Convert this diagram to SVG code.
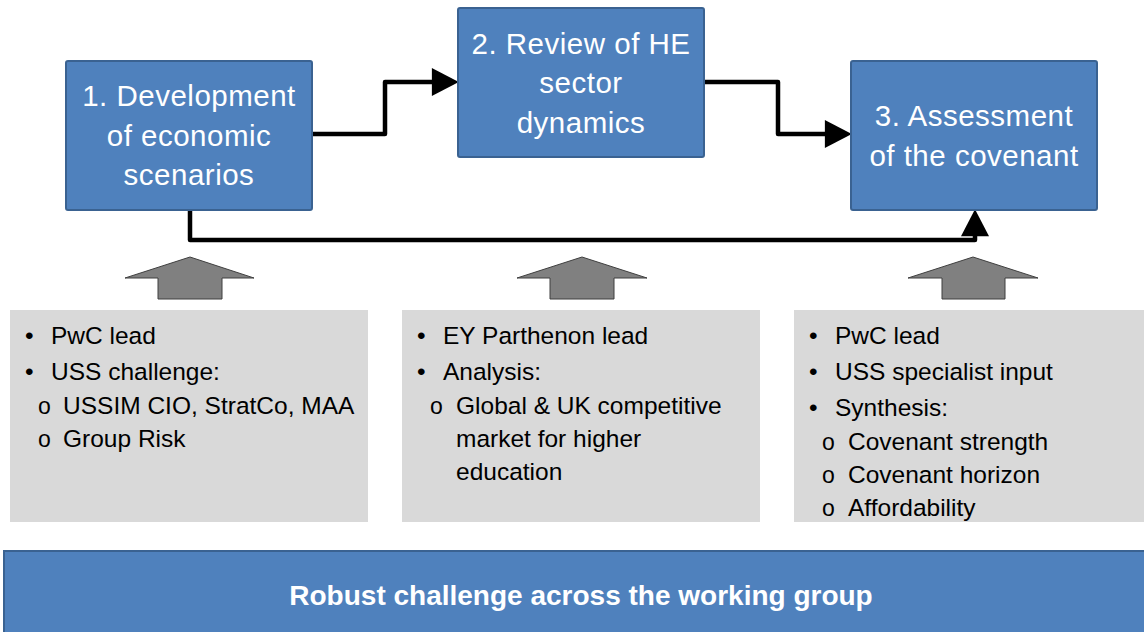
<svg xmlns="http://www.w3.org/2000/svg" width="1144" height="632" viewBox="0 0 1144 632">
  <style>
    .step { fill: #4f81bd; stroke: #3a6291; stroke-width: 2; }
    .step-text { font-family: "Liberation Sans", Arial, sans-serif; font-size: 29.5px; letter-spacing: 0.5px; fill: #ffffff; text-anchor: middle; }
    .panel { fill: #d9d9d9; }
    .panel-text { font-family: "Liberation Sans", Arial, sans-serif; font-size: 24.5px; fill: #000000; }
    .sub { font-family: "Liberation Sans", Arial, sans-serif; font-size: 23px; fill: #000000; }
    .input-arrow { fill: #808080; stroke: #3f3f3f; stroke-width: 1; }
    .link { fill: none; stroke: #000000; stroke-width: 4.5; stroke-linejoin: round; }
    .banner { fill: #4f81bd; stroke: #3a6291; stroke-width: 2; }
    .banner-text { font-family: "Liberation Sans", Arial, sans-serif; font-size: 28px; font-weight: bold; fill: #ffffff; text-anchor: middle; }
  </style>
  <defs>
    <marker id="head" markerUnits="userSpaceOnUse" markerWidth="28" markerHeight="28" viewBox="0 0 26 27" refX="4" refY="13.5" orient="auto">
      <path d="M0,0 L26,13.5 L0,27 Z" fill="#000000"/>
    </marker>
  </defs>

  <rect width="1144" height="632" fill="#ffffff"/>

  <!-- connectors between the three steps -->
  <g id="connectors">
    <path class="link" d="M312,134 H385 V82 H436" marker-end="url(#head)"/>
    <path class="link" d="M704,82 H778 V134 H829" marker-end="url(#head)"/>
    <path class="link" d="M190,210 V240 H975 V232" marker-end="url(#head)"/>
  </g>

  <!-- step boxes -->
  <g id="step1">
    <rect class="step" x="66" y="61" width="246" height="149" rx="2"/>
    <text class="step-text" x="189" y="106">1. Development</text>
    <text class="step-text" x="189" y="146">of economic</text>
    <text class="step-text" x="189" y="185">scenarios</text>
  </g>
  <g id="step2">
    <rect class="step" x="458" y="8" width="246" height="149" rx="2"/>
    <text class="step-text" x="581" y="54">2. Review of HE</text>
    <text class="step-text" x="581" y="93">sector</text>
    <text class="step-text" x="581" y="133">dynamics</text>
  </g>
  <g id="step3">
    <rect class="step" x="851" y="61" width="246" height="149" rx="2"/>
    <text class="step-text" x="974" y="126">3. Assessment</text>
    <text class="step-text" x="974" y="166">of the covenant</text>
  </g>

  <!-- grey block arrows feeding each step -->
  <g id="input1">
    <polygon class="input-arrow" points="190,257 254,278 222,278 222,299 158,299 158,278 125,278"/>
  </g>
  <g id="input2">
    <polygon class="input-arrow" points="582,257 647,278 614,278 614,299 550,299 550,278 517,278"/>
  </g>
  <g id="input3">
    <polygon class="input-arrow" points="973,257 1038,278 1005,278 1005,299 942,299 942,278 908,278"/>
  </g>

  <!-- description panels -->
  <g id="panel1">
    <rect class="panel" x="10" y="310" width="358" height="212"/>
    <text class="panel-text" x="25" y="344">•</text>
    <text class="panel-text" x="51" y="344">PwC lead</text>
    <text class="panel-text" x="25" y="380">•</text>
    <text class="panel-text" x="51" y="380">USS challenge:</text>
    <text class="sub" x="38" y="414">o</text>
    <text class="panel-text" x="63" y="414">USSIM CIO, StratCo, MAA</text>
    <text class="sub" x="38" y="447">o</text>
    <text class="panel-text" x="63" y="447">Group Risk</text>
  </g>
  <g id="panel2">
    <rect class="panel" x="402" y="310" width="358" height="212"/>
    <text class="panel-text" x="417" y="344">•</text>
    <text class="panel-text" x="443" y="344">EY Parthenon lead</text>
    <text class="panel-text" x="417" y="380">•</text>
    <text class="panel-text" x="443" y="380">Analysis:</text>
    <text class="sub" x="430" y="414">o</text>
    <text class="panel-text" x="456" y="414">Global &amp; UK competitive</text>
    <text class="panel-text" x="456" y="447">market for higher</text>
    <text class="panel-text" x="456" y="480">education</text>
  </g>
  <g id="panel3">
    <rect class="panel" x="794" y="310" width="350" height="212"/>
    <text class="panel-text" x="809" y="344">•</text>
    <text class="panel-text" x="835" y="344">PwC lead</text>
    <text class="panel-text" x="809" y="380">•</text>
    <text class="panel-text" x="835" y="380">USS specialist input</text>
    <text class="panel-text" x="809" y="416">•</text>
    <text class="panel-text" x="835" y="416">Synthesis:</text>
    <text class="sub" x="822" y="450">o</text>
    <text class="panel-text" x="848" y="450">Covenant strength</text>
    <text class="sub" x="822" y="483">o</text>
    <text class="panel-text" x="848" y="483">Covenant horizon</text>
    <text class="sub" x="822" y="516">o</text>
    <text class="panel-text" x="848" y="516">Affordability</text>
  </g>

  <!-- banner across the bottom -->
  <g id="banner">
    <rect class="banner" x="4" y="551" width="1150" height="90"/>
    <text class="banner-text" x="581" y="605">Robust challenge across the working group</text>
  </g>
</svg>
